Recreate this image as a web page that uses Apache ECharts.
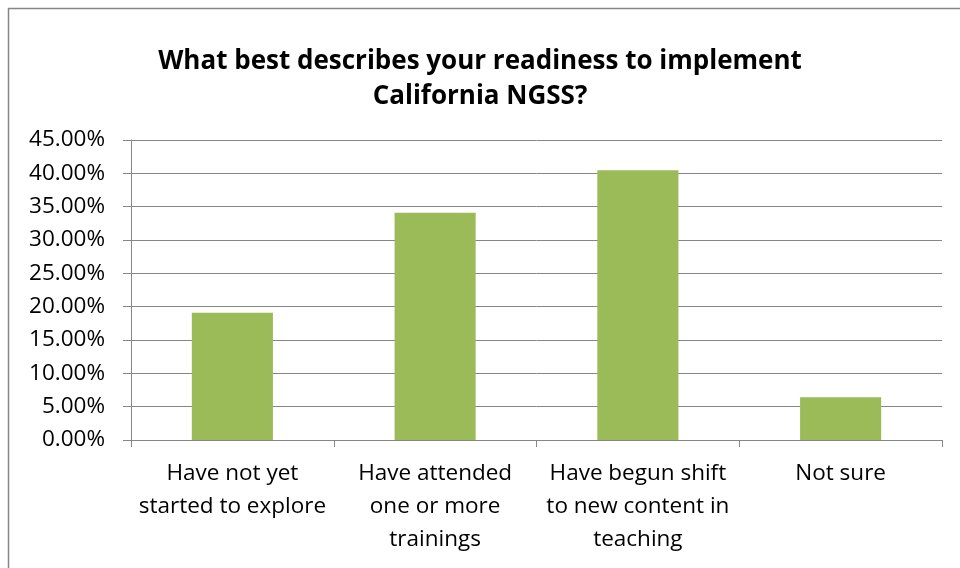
<!DOCTYPE html>
<html>
<head>
<meta charset="utf-8">
<script src="https://cdn.jsdelivr.net/npm/echarts@6/dist/echarts.min.js"></script>
<style>
  html, body { margin: 0; padding: 0; background: #fff; }
  #chart { width: 960px; height: 568px; }
</style>
</head>
<body>
<div id="chart"></div>
<script>
  const titleText = 'What best describes your readiness to implement\nCalifornia NGSS?';
  const categories = [
    'Have not yet\nstarted to explore',
    'Have attended\none or more\ntrainings',
    'Have begun shift\nto new content in\nteaching',
    'Not sure'
  ];
  const values = [19.1, 34.1, 40.45, 6.4];
  const yMin = 0;
  const yMax = 45;
  const yStep = 5;

  const fontFamily = '"Open Sans", "Noto Sans", sans-serif';
  const gray = '#868686';

  let mychart = echarts.init(document.getElementById('chart'));
  const option = {
    backgroundColor: '#fff',
    animation: false,
    graphic: [{
      type: 'rect',
      shape: { x: 8.5, y: 8.5, width: 1200, height: 1200 },
      style: { fill: 'none', stroke: gray, lineWidth: 1.5 },
      silent: true
    }],
    title: {
      text: titleText,
      left: 'center',
      top: 39,
      textStyle: {
        fontFamily: fontFamily,
        fontWeight: 'bold',
        fontSize: 26,
        lineHeight: 35,
        color: '#000'
      }
    },
    grid: {
      top: 140,
      left: 131,
      right: 18,
      bottom: 128,
      containLabel: false
    },
    xAxis: {
      type: 'category',
      data: categories,
      axisLine: { show: true, lineStyle: { color: gray, width: 1 } },
      axisTick: { show: true, length: 7, lineStyle: { color: gray } },
      axisLabel: {
        interval: 0,
        margin: 17,
        color: '#000',
        fontFamily: fontFamily,
        fontSize: 22.5,
        lineHeight: 33,
        align: 'center'
      },
      splitLine: { show: false }
    },
    yAxis: {
      type: 'value',
      min: yMin,
      max: yMax,
      interval: yStep,
      axisLine: { show: true, lineStyle: { color: gray, width: 1 } },
      axisTick: { show: true, length: 8, lineStyle: { color: gray } },
      axisLabel: {
        margin: 26,
        color: '#000',
        fontFamily: fontFamily,
        fontSize: 22.5,
        formatter: function (v) { return v.toFixed(2) + '%'; }
      },
      splitLine: { show: true, lineStyle: { color: gray, width: 1 } }
    },
    series: [{
      type: 'bar',
      data: values,
      barWidth: '40%',
      itemStyle: { color: '#9BBB59' }
    }]
  };
  mychart.setOption(option);
</script>
</body>
</html>
